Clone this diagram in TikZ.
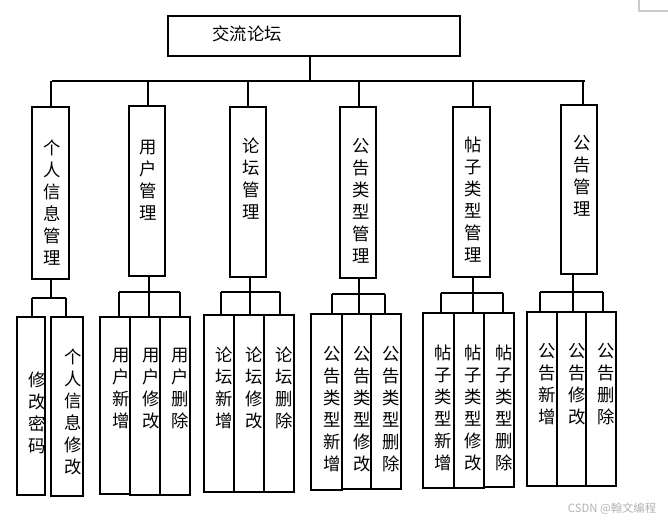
\documentclass[tikz,border=0pt]{standalone}
\usepackage{fontspec}
\setmainfont{Noto Sans CJK SC}
\usetikzlibrary{fit}
\tikzset{
  box/.style={draw, line width=0.8pt, inner sep=0pt, outer sep=0pt},
  vtext/.style={anchor=north, align=center, inner sep=0pt, font=\fontsize{13pt}{16.5pt}\selectfont},
  link/.style={line width=0.8pt},
}
\newcommand\mkbox[5]{\node[box, fit={(#2,#3) (#4,#5)}] (#1) {};}
\begin{document}
\begin{tikzpicture}[x=0.75pt,y=-0.75pt]
\useasboundingbox (0,0) rectangle (668,523);
% top
\mkbox{top}{168}{16}{460}{56}
\node[inner sep=0pt, font=\fontsize{13pt}{16pt}\selectfont] (toptext) at (247,34) {交流论坛};
% level 2 boxes
\mkbox{l1}{32}{107}{69}{279}
\mkbox{l2}{129}{106}{165}{276}
\mkbox{l3}{230}{107}{266}{277}
\mkbox{l4}{340}{107}{376}{278}
\mkbox{l5}{453}{107}{490}{277}
\mkbox{l6}{561}{105}{597}{274}
\node[vtext] (t1) at (52,140) {个\\人\\信\\息\\管\\理};
\node[vtext] (t2) at (148,140) {用\\户\\管\\理};
\node[vtext] (t3) at (251,138) {论\\坛\\管\\理};
\node[vtext] (t4) at (361,138) {公\\告\\类\\型\\管\\理};
\node[vtext] (t5) at (473,137) {帖\\子\\类\\型\\管\\理};
\node[vtext] (t6) at (582,135) {公\\告\\管\\理};
% level 3 boxes
\mkbox{c11}{17}{317}{45}{495}
\mkbox{c12}{51}{317}{83}{496}
\mkbox{c21}{100}{317}{130}{494}
\mkbox{c22}{130}{317}{160}{495}
\mkbox{c23}{160}{317}{190}{495}
\mkbox{c31}{204}{315}{234}{492}
\mkbox{c32}{234}{315}{264}{492}
\mkbox{c33}{264}{315}{294}{492}
\mkbox{c41}{311}{314}{342}{490}
\mkbox{c42}{342}{314}{371}{489}
\mkbox{c43}{371}{314}{401}{489}
\mkbox{c51}{423}{313}{454}{488}
\mkbox{c52}{454}{313}{484}{488}
\mkbox{c53}{484}{313}{514}{487}
\mkbox{c61}{527}{312}{557}{486}
\mkbox{c62}{557}{312}{586}{486}
\mkbox{c63}{586}{312}{616}{486}
\node[vtext] (u11) at (37,372) {修\\改\\密\\码};
\node[vtext] (u12) at (73,349) {个\\人\\信\\息\\修\\改};
\node[vtext] (u21) at (121,348) {用\\户\\新\\增};
\node[vtext] (u22) at (151,348) {用\\户\\修\\改};
\node[vtext] (u23) at (180,348) {用\\户\\删\\除};
\node[vtext] (u31) at (224,347) {论\\坛\\新\\增};
\node[vtext] (u32) at (254,347) {论\\坛\\修\\改};
\node[vtext] (u33) at (284,347) {论\\坛\\删\\除};
\node[vtext] (u41) at (332,346) {公\\告\\类\\型\\新\\增};
\node[vtext] (u42) at (362,346) {公\\告\\类\\型\\修\\改};
\node[vtext] (u43) at (391,346) {公\\告\\类\\型\\删\\除};
\node[vtext] (u51) at (443,345) {帖\\子\\类\\型\\新\\增};
\node[vtext] (u52) at (473,345) {帖\\子\\类\\型\\修\\改};
\node[vtext] (u53) at (504,345) {帖\\子\\类\\型\\删\\除};
\node[vtext] (u61) at (547,343) {公\\告\\新\\增};
\node[vtext] (u62) at (577,343) {公\\告\\修\\改};
\node[vtext] (u63) at (606,343) {公\\告\\删\\除};
% level 1 connectors
\coordinate (ts) at (310,81);
\coordinate (busL) at (52,81);
\coordinate (busR) at (585,81);
\draw[link] (top.south -| ts) -- (ts);
\draw[link] (busL) -- (busR);
\foreach \i/\x in {1/51,2/148,3/248,4/359,5/473,6/583}{
  \coordinate (s\i) at (\x,81);
  \draw[link] (s\i) -- (s\i |- l\i.north);
}
% group connectors
\coordinate (g1) at (51,298); \coordinate (g1L) at (32,298); \coordinate (g1R) at (66,298);
\draw[link] (g1 |- l1.south) -- (g1);
\draw[link] (g1L) -- (g1R);
\draw[link] (g1L) -- (g1L |- c11.north);
\draw[link] (g1R) -- (g1R |- c12.north);
\foreach \k/\xm/\xl/\xr/\yb in {2/149/119/180/292, 3/250/221/280/292, 4/359/332/385/294, 5/473/441/503/293, 6/573/540/603/292}{
  \coordinate (g\k) at (\xm,\yb);
  \coordinate (g\k L) at (\xl,\yb);
  \coordinate (g\k R) at (\xr,\yb);
  \draw[link] (g\k |- l\k.south) -- (g\k);
  \draw[link] (g\k L) -- (g\k R);
  \draw[link] (g\k L) -- (g\k L |- c\k1.north);
  \draw[link] (g\k) -- (g\k |- c\k2.north);
  \draw[link] (g\k R) -- (g\k R |- c\k3.north);
}
% corner mark and watermark
\coordinate (cm1) at (639,0); \coordinate (cm2) at (639,11); \coordinate (cm3) at (668,11);
\draw[black!20, line width=0.8pt] (cm1) -- (cm2) -- (cm3);
\node[inner sep=0pt, text=black!30, font=\fontsize{8.5pt}{10pt}\selectfont] (wm) at (612,509) {CSDN @翰文编程};
\end{tikzpicture}
\end{document}
